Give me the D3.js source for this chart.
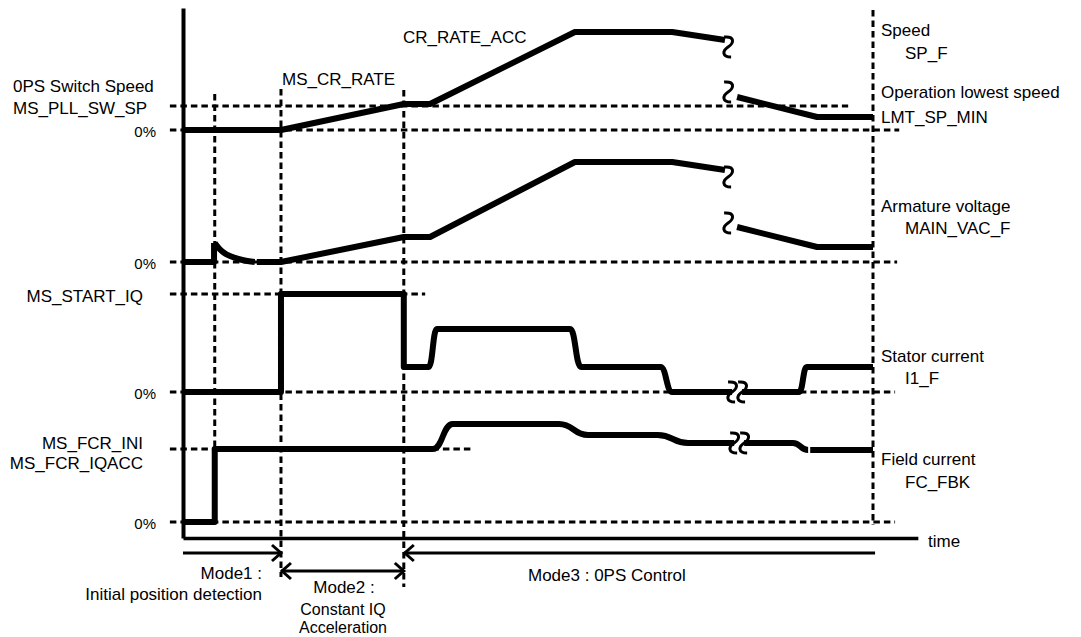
<!DOCTYPE html>
<html>
<head>
<meta charset="utf-8">
<script src="https://cdn.jsdelivr.net/npm/d3@7"></script>
<style>
  body { margin: 0; background: #fff; }
  text { font-family: "Liberation Sans", Arial, sans-serif; font-size: 17px; fill: #000; }
  text.mode { font-size: 17px; }
  text.small { font-size: 16px; }
  text.zero { font-size: 15px; }
</style>
</head>
<body>
<div id="chart"></div>
<script>
// time is in % of the shown span, every signal is in % of its own panel height

// mode boundaries: position step, end of mode1, end of mode2, end of chart
const modeTimes = [4.6, 14.2, 32.0, 100];

// Speed SP_F (two pieces, broken between them)
const speedSegments = [
    [[0, 0], [14.2, 0], [32, 26], [35.8, 26], [56.8, 98], [70.9, 98], [78.55, 90]],
    [[80.3, 33], [91.9, 13], [100, 13]]
];
const speedBreaks = [[79.0, 83], [79.0, 38]];

// Armature voltage MAIN_VAC_F
const armatureStep = [[0, 0], [4.5, 0], [4.5, 19]];
const armatureDecay = [[4.6, 19], [5.3, 13], [6.2, 8], [7.2, 5], [8.6, 2], [10.4, 0]];
const armatureSegments = [
    [[10.7, 0], [14.2, 0], [32, 25], [35.8, 25], [56.8, 100], [70.9, 100], [78.55, 92]],
    [[80.3, 35], [91.9, 15], [100, 15]]
];
const armatureBreaks = [[79.0, 85], [79.0, 39]];

// Stator current I1_F
const statorSegments = [
    [[0, 0], [14.2, 0], [14.2, 98], [32, 98], [32, 25], [35.6, 25], [36.8, 63], [56.1, 63],
     [57.7, 25], [69.2, 25], [70.9, 0], [89.3, 0], [90.4, 25], [100, 25]]
];
const statorBreak = [80.3, 0];

// Field current FC_FBK
const fieldSegments = [
    [[0, 0], [4.6, 0], [4.6, 73], [36.2, 73], [39.1, 98], [54.5, 98], [58.7, 87], [68.8, 87],
     [73.2, 79], [88.4, 79], [90.6, 72]],
    [[90.9, 72], [100, 72]]
];
const fieldBreak = [80.6, 79];

// reference levels [value, end time]
const speedRefs = [[24, 96.4], [0, 103.8]];
const armatureRefs = [[0, 103.5]];
const statorRefs = [[98, 35.1], [0, 103.2]];
const fieldRefs = [[73, 41.9], [0, 103.2]];

const leftLabels = ["0PS Switch Speed", "MS_PLL_SW_SP", "MS_START_IQ", "MS_FCR_INI", "MS_FCR_IQACC"];
const zeroLabel = "0%";
const rateLabels = ["MS_CR_RATE", "CR_RATE_ACC"];
const rightLabels = [
    ["Speed", "SP_F"], ["Operation lowest speed", "LMT_SP_MIN"],
    ["Armature voltage", "MAIN_VAC_F"], ["Stator current", "I1_F"], ["Field current", "FC_FBK"]
];
const modeLabels = [
    ["Mode1 :", "Initial position detection"],
    ["Mode2 :", "Constant IQ", "Acceleration"],
    ["Mode3 : 0PS Control"]
];

const width = 1081, height = 637;
const svg = d3.select("#chart").append("svg").attr("width", width).attr("height", height);

const x = d3.scaleLinear().domain([0, 100]).range([183, 873]);
const panelZero = [130, 262, 392, 522];
const panelY = panelZero.map(z => d3.scaleLinear().domain([0, 100]).range([z, z - 100]));
const [ySpeed, yArm, yStator, yField] = panelY;

const dash = "6.5,4";

function dashedH(y, t0, t1) {
    svg.append("line").attr("x1", x(t0)).attr("x2", x(t1)).attr("y1", y).attr("y2", y)
        .attr("stroke", "#000").attr("stroke-width", 3).attr("stroke-dasharray", dash);
}

function dashedV(t, y0, y1) {
    svg.append("line").attr("x1", x(t)).attr("x2", x(t)).attr("y1", y0).attr("y2", y1)
        .attr("stroke", "#000").attr("stroke-width", 3).attr("stroke-dasharray", dash);
}

// reference dashed levels
const leftStart = -1.9;
speedRefs.forEach(r => dashedH(ySpeed(r[0]), leftStart, r[1]));
armatureRefs.forEach(r => dashedH(yArm(r[0]), leftStart, r[1]));
statorRefs.forEach(r => dashedH(yStator(r[0]), leftStart, r[1]));
fieldRefs.forEach(r => dashedH(yField(r[0]), leftStart, r[1]));

// mode boundary lines
dashedV(modeTimes[0], ySpeed(36), yField(73));
dashedV(modeTimes[1], ySpeed(41), 577);
dashedV(modeTimes[2], ySpeed(40), 587);
dashedV(modeTimes[3], 10, 525);

// axes
const yAxisScale = d3.scaleLinear().domain([0, 1]).range([538, 8]);
svg.append("g").attr("transform", `translate(${x(0)},0)`)
    .call(d3.axisLeft(yAxisScale).tickValues([]).tickSizeOuter(0))
    .select(".domain").attr("stroke-width", 4);
const tAxis = d3.scaleLinear().domain([0, 106.5]).range([x(0), x(106.5)]);
svg.append("g").attr("transform", "translate(0,538)")
    .call(d3.axisBottom(tAxis).tickValues([]).tickSizeOuter(0))
    .select(".domain").attr("stroke-width", 3.3);
svg.append("text").attr("x", 928).attr("y", 541).attr("dominant-baseline", "central").text("time");

// traces
function trace(points, y, curve) {
    const line = d3.line().x(d => x(d[0])).y(d => y(d[1])).curve(curve);
    svg.append("path").attr("d", line(points)).attr("fill", "none")
        .attr("stroke", "#000").attr("stroke-width", 6).attr("stroke-linejoin", "round");
}

speedSegments.forEach(s => trace(s, ySpeed, d3.curveLinear));
trace(armatureStep, yArm, d3.curveLinear);
trace(armatureDecay, yArm, d3.curveMonotoneX);
armatureSegments.forEach(s => trace(s, yArm, d3.curveLinear));
statorSegments.forEach(s => trace(s, yStator, d3.curveBumpX));
fieldSegments.forEach(s => trace(s, yField, d3.curveBumpX));

// break marks
function squiggle(cx, cy) {
    svg.append("path")
        .attr("d", `M${cx - 4},${cy - 10} C${cx + 7},${cy - 11} ${cx + 6},${cy - 4} ${cx},${cy}` +
                   ` C${cx - 6},${cy + 4} ${cx - 6},${cy + 10} ${cx + 3},${cy + 10}`)
        .attr("fill", "none").attr("stroke", "#000").attr("stroke-width", 3);
}
function doubleBreak(cx, cy) {
    svg.append("rect").attr("x", cx - 5).attr("y", cy - 5).attr("width", 10).attr("height", 10)
        .attr("fill", "#fff");
    squiggle(cx - 5, cy);
    squiggle(cx + 5, cy);
}
speedBreaks.forEach(b => squiggle(x(b[0]), ySpeed(b[1])));
armatureBreaks.forEach(b => squiggle(x(b[0]), yArm(b[1])));
doubleBreak(x(statorBreak[0]), yStator(statorBreak[1]));
doubleBreak(x(fieldBreak[0]), yField(fieldBreak[1]));

// text helpers
function label(tx, ty, str, anchor = "start", cls = null) {
    svg.append("text").attr("x", tx).attr("y", ty).attr("text-anchor", anchor)
        .attr("class", cls).attr("dominant-baseline", "central").text(str);
}

label(13, 86, leftLabels[0]);
label(13, 108, leftLabels[1]);
label(143, 296, leftLabels[2], "end");
label(143, 443, leftLabels[3], "end");
label(143, 463, leftLabels[4], "end");
panelZero.forEach(z => label(156, z + 1, zeroLabel, "end", "zero"));

label(282, 79, rateLabels[0]);
label(403, 37, rateLabels[1]);

const rightPos = [[30, 53], [92, 117], [206, 228], [356, 378], [459, 482]];
rightLabels.forEach((r, i) => {
    label(881, rightPos[i][0], r[0]);
    label(i === 1 ? 881 : 905, rightPos[i][1], r[1]);
});

// mode arrows
function arrowHead(px, py, dir) {
    svg.append("path").attr("d", `M${px - dir * 9},${py - 8} L${px},${py} L${px - dir * 9},${py + 8}`)
        .attr("fill", "none").attr("stroke", "#000").attr("stroke-width", 3);
}
function hline(t0, t1, py) {
    svg.append("line").attr("x1", x(t0)).attr("x2", x(t1)).attr("y1", py).attr("y2", py)
        .attr("stroke", "#000").attr("stroke-width", 3);
}
hline(0, modeTimes[1], 553);
arrowHead(x(modeTimes[1]), 553, 1);
hline(modeTimes[1], modeTimes[2], 571);
arrowHead(x(modeTimes[1]) + 1, 571, -1);
arrowHead(x(modeTimes[2]), 571, 1);
hline(modeTimes[2], 100.3, 553);
arrowHead(x(modeTimes[2]) + 1, 553, -1);

label(262, 573, modeLabels[0][0], "end", "mode");
label(262, 594, modeLabels[0][1], "end", "mode");
label(344, 587, modeLabels[1][0], "middle", "mode");
label(343, 609, modeLabels[1][1], "middle", "small");
label(343, 627, modeLabels[1][2], "middle", "small");
label(528, 575, modeLabels[2][0], "start", "mode");
</script>
</body>
</html>
